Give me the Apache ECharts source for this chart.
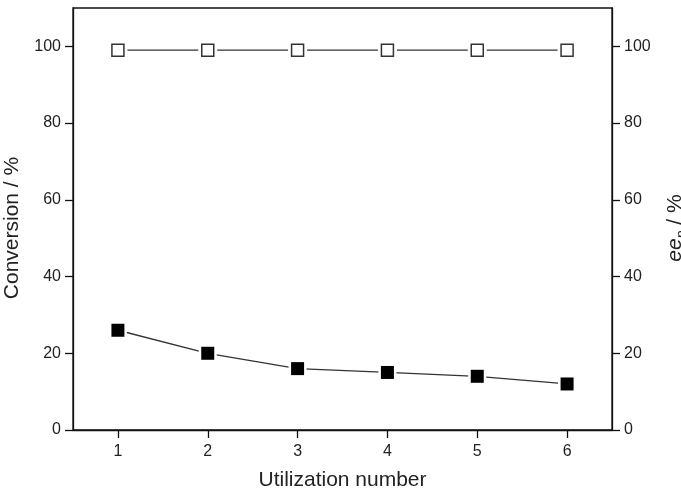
<!DOCTYPE html>
<html>
<head>
<meta charset="utf-8">
<script src="https://cdn.jsdelivr.net/npm/echarts@6/dist/echarts.min.js"></script>
<style>
	html, body { margin: 0; padding: 0; background: #fff; }
	#plot { width: 681px; height: 494px; }
</style>
</head>
<body>
<div id="plot"></div>
<script>
const cycles = ['1', '2', '3', '4', '5', '6'];
const conversion = [26, 20, 16, 15, 14, 12];
const eeP = [99, 99, 99, 99, 99, 99];
const yTicks = [0, 20, 40, 60, 80, 100];

const font = 'Liberation Sans';

function valueAxis(position, name, nameGap) {
	return {
		type: 'value',
		position: position,
		min: 0,
		max: 110,
		interval: 20,
		name: name,
		nameLocation: 'middle',
		nameGap: nameGap,
		nameTextStyle: {
			fontFamily: font,
			fontSize: 21,
			color: '#222',
			padding: [0, 18, 0, 0],
			rich: {
				ee: { fontFamily: font, fontSize: 21, fontStyle: 'italic', color: '#222', lineHeight: 24 },
				sub: { fontFamily: font, fontSize: 14, fontStyle: 'italic', color: '#222', lineHeight: 14, padding: [14, 0, 0, 0] },
				n: { fontFamily: font, fontSize: 21, color: '#222', lineHeight: 24 }
			}
		},
		axisLine: { show: true, lineStyle: { color: '#111', width: 1.3 } },
		axisTick: {
			show: true,
			inside: false,
			length: 8,
			customValues: yTicks,
			lineStyle: { color: '#111', width: 1.3 }
		},
		axisLabel: {
			customValues: yTicks,
			fontFamily: font,
			fontSize: 16,
			color: '#222',
			margin: 12
		},
		splitLine: { show: false }
	};
}

function lineSeries(values, axisIndex) {
	return {
		type: 'line',
		yAxisIndex: axisIndex,
		data: values,
		symbol: 'none',
		z: 1,
		lineStyle: { color: '#333', width: 1.3 }
	};
}

function haloSeries(values, axisIndex, size) {
	return {
		type: 'scatter',
		yAxisIndex: axisIndex,
		data: values,
		symbol: 'rect',
		symbolSize: size,
		z: 2,
		itemStyle: { color: '#fff', opacity: 1 },
		silent: true
	};
}

function markerSeries(values, axisIndex, filled) {
	return {
		type: 'scatter',
		yAxisIndex: axisIndex,
		data: values,
		symbol: 'rect',
		symbolSize: filled ? 13 : 12,
		z: 3,
		itemStyle: filled
			? { color: '#000', borderColor: '#000', borderWidth: 0, opacity: 1 }
			: { color: '#fff', borderColor: '#333', borderWidth: 1.5, opacity: 1 }
	};
}

function plot() {
	const chart = echarts.init(document.getElementById('plot'));
	chart.setOption({
		animation: false,
		backgroundColor: '#fff',
		grid: {
			left: 73,
			right: 69,
			top: 8,
			bottom: 64,
			outerBoundsMode: 'none',
			containLabel: false,
			show: true,
			borderColor: '#111',
			borderWidth: 1.3,
			backgroundColor: 'transparent'
		},
		xAxis: {
			type: 'category',
			data: cycles,
			boundaryGap: true,
			name: 'Utilization number',
			nameLocation: 'middle',
			nameGap: 40,
			nameTextStyle: { fontFamily: font, fontSize: 21, color: '#222' },
			axisLine: { show: true, lineStyle: { color: '#111', width: 1.3 } },
			axisTick: { show: true, alignWithLabel: true, length: 8, lineStyle: { color: '#111', width: 1.3 } },
			axisLabel: { fontFamily: font, fontSize: 16, color: '#222', margin: 14 },
			splitLine: { show: false }
		},
		yAxis: [
			valueAxis('left', 'Conversion / %', 50),
			valueAxis('right', '{ee|ee}{sub|p}{n| / %}', 45)
		],
		series: [
			lineSeries(conversion, 0),
			haloSeries(conversion, 0, 18),
			markerSeries(conversion, 0, true),
			lineSeries(eeP, 1),
			haloSeries(eeP, 1, 19),
			markerSeries(eeP, 1, false)
		]
	});
}

window.addEventListener('load', () => {
	plot();
});
</script>
</body>
</html>
